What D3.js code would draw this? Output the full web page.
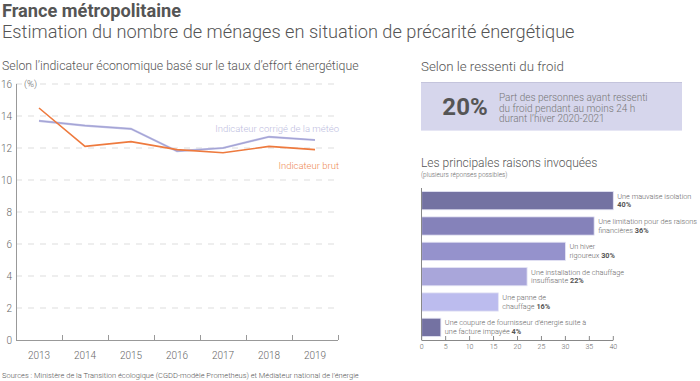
<!DOCTYPE html>
<html><head><meta charset="utf-8">
<script src="https://cdn.jsdelivr.net/npm/d3@7"></script>
<style>
body{margin:0;background:#fff;}
svg{font-family:Roboto,"Noto Sans",sans-serif;}
</style></head>
<body><svg id="c" width="700" height="381"></svg>
<script>
const years = ["2013","2014","2015","2016","2017","2018","2019"];
const brut = [14.5,12.1,12.4,11.9,11.7,12.1,11.9];
const corrige = [13.7,13.4,13.2,11.8,12.0,12.7,12.5];
const yTicks = [0,2,4,6,8,10,12,14,16];

const raisonsL1 = ["Une mauvaise isolation","Une limitation pour des raisons","Un hiver","Une installation de chauffage","Une panne de","Une coupure de fournisseur d\u2019énergie suite à"];
const raisonsL2 = ["","financières ","rigoureux ","insuffisante  ","chauffage ","une facture impayée "];
const raisonsVal = [40,36,30,22,16,4];
const barColors = ["#7472a2","#8582ba","#9592cc","#a9a6da","#bcbcee","#7472a2"];
const xTicksBar = [0,5,10,15,20,25,30,35,40];

const svg = d3.select("#c");
const grey = "#666";

// Titles
svg.append("text").attr("x",2).attr("y",17).attr("font-size",18.2).attr("font-weight",700).attr("fill","#555").text("France métropolitaine");
svg.append("text").attr("x",2).attr("y",38).attr("font-size",18.2).attr("font-weight",300).attr("fill","#555").text("Estimation du nombre de ménages en situation de précarité énergétique");
svg.append("text").attr("x",2).attr("y",70).attr("font-size",12.3).attr("font-weight",300).attr("fill","#555").text("Selon l\u2019indicateur économique basé sur le taux d\u2019effort énergétique");
svg.append("text").attr("x",2).attr("y",378).attr("font-size",7.5).attr("font-weight",300).attr("fill","#555").text("Sources : Ministère de la Transition écologique (CGDD-modèle Prometheus) et Médiateur national de l\u2019énergie");

// Left line chart
const x = d3.scaleBand().domain(years).range([16,338]);
const y = d3.scaleLinear().domain([0,16]).range([340,84]);
const g = svg.append("g");
g.selectAll("line.grid").data(yTicks.filter(d=>d>0)).join("line")
  .attr("x1",16).attr("x2",338).attr("y1",d=>y(d)).attr("y2",d=>y(d))
  .attr("stroke","#ddd").attr("stroke-width",1).attr("stroke-dasharray","6,6");
g.selectAll("text.yt").data(yTicks).join("text")
  .attr("x",12).attr("y",d=>y(d)+3.5).attr("text-anchor","end").attr("font-size",10).attr("font-weight",300).attr("fill",grey).text(d=>d);
g.append("line").attr("x1",16.5).attr("x2",16.5).attr("y1",84).attr("y2",340).attr("stroke","#999");
g.append("line").attr("x1",16).attr("x2",338).attr("y1",340.5).attr("y2",340.5).attr("stroke","#999");
const bounds = years.slice(1).map(d=>x(d)).concat([338]);
g.selectAll("line.xt").data(bounds).join("line")
  .attr("x1",d=>d+0.5).attr("x2",d=>d+0.5).attr("y1",335).attr("y2",340).attr("stroke","#999");
g.selectAll("text.xl").data(years).join("text")
  .attr("x",d=>x(d)+x.bandwidth()/2).attr("y",359).attr("text-anchor","middle").attr("font-size",10).attr("font-weight",300).attr("fill",grey).text(d=>d);
g.append("text").attr("x",24).attr("y",87).attr("font-size",9.5).attr("font-weight",300).attr("fill",grey).text("(%)");

const line = d3.line().x((d,i)=>x(years[i])+x.bandwidth()/2).y(d=>y(d));
g.append("path").datum(corrige).attr("d",line).attr("fill","none").attr("stroke","#bcbce4").attr("stroke-width",2.2);
g.append("path").datum(corrige).attr("d",line).attr("fill","none").attr("stroke","#9090c8").attr("stroke-width",0.6);
g.append("path").datum(brut).attr("d",line).attr("fill","none").attr("stroke","#ee7a3e").attr("stroke-width",1.6);
g.append("text").attr("x",339).attr("y",132).attr("text-anchor","end").attr("font-size",9.5).attr("font-weight",300).attr("fill","#bdbde0").text("Indicateur corrigé de la météo");
g.append("text").attr("x",339).attr("y",169).attr("text-anchor","end").attr("font-size",9.5).attr("font-weight",300).attr("fill","#ee8a55").text("Indicateur brut");

// Right panel
svg.append("text").attr("x",421).attr("y",71).attr("font-size",13.3).attr("font-weight",300).attr("fill","#555").text("Selon le ressenti du froid");
svg.append("rect").attr("x",421).attr("y",82).attr("width",261).attr("height",49).attr("fill","#d6d6ec");
svg.append("line").attr("x1",421).attr("x2",682).attr("y1",82.5).attr("y2",82.5).attr("stroke","#c4c4dc");
svg.append("line").attr("x1",421).attr("x2",682).attr("y1",130.5).attr("y2",130.5).attr("stroke","#e6e6f4");
svg.append("text").attr("x",465).attr("y",115).attr("text-anchor","middle").attr("font-size",24).attr("font-weight",700).attr("fill","#555").text("20%");
["Part des personnes ayant ressenti","du froid pendant au moins 24 h","durant l\u2019hiver 2020-2021"].forEach((t,i)=>{
  svg.append("text").attr("x",499).attr("y",101+i*10.5).attr("font-size",10).attr("font-weight",300).attr("fill","#777").text(t);
});
svg.append("text").attr("x",421).attr("y",167).attr("font-size",12).attr("font-weight",300).attr("fill","#555").text("Les principales raisons invoquées");
svg.append("text").attr("x",421).attr("y",177).attr("font-size",6.5).attr("font-weight",300).attr("fill","#666").text("(plusieurs réponses possibles)");

const xb = d3.scaleLinear().domain([0,40]).range([421.7,613.3]);
const yb = d3.scaleBand().domain(d3.range(raisonsVal.length)).range([188,340]).paddingInner(0.28).paddingOuter(0.14);
const bg = svg.append("g");
bg.selectAll("rect").data(raisonsVal).join("rect")
  .attr("x",xb(0)).attr("y",(d,i)=>yb(i)).attr("width",d=>xb(d)-xb(0)).attr("height",yb.bandwidth())
  .attr("fill",(d,i)=>barColors[i]).attr("stroke","#e4e4f4").attr("stroke-width",0.8);
bg.append("line").attr("x1",421.5).attr("x2",421.5).attr("y1",188).attr("y2",340).attr("stroke","#888");
bg.append("line").attr("x1",421.5).attr("x2",613.3).attr("y1",340.5).attr("y2",340.5).attr("stroke","#888");
bg.selectAll("line.bt").data(xTicksBar).join("line")
  .attr("x1",d=>xb(d)).attr("x2",d=>xb(d)).attr("y1",336).attr("y2",340).attr("stroke","#888");
bg.selectAll("text.bx").data(xTicksBar).join("text")
  .attr("x",d=>xb(d)).attr("y",349).attr("text-anchor","middle").attr("font-size",7).attr("font-weight",300).attr("fill",grey).text(d=>d);
raisonsVal.forEach((v,i)=>{
  const lx = xb(v)+4, ty = yb(i)+yb.bandwidth()/2;
  bg.append("text").attr("x",lx).attr("y",ty-2).attr("font-size",7.3).attr("font-weight",300).attr("fill","#666").text(raisonsL1[i]);
  const t2 = bg.append("text").attr("x",lx).attr("y",ty+6.5).attr("font-size",7.3).attr("font-weight",300).attr("fill","#666");
  t2.append("tspan").text(raisonsL2[i]);
  t2.append("tspan").attr("font-weight",700).attr("fill","#555").text(v+"%");
});
</script></body></html>
